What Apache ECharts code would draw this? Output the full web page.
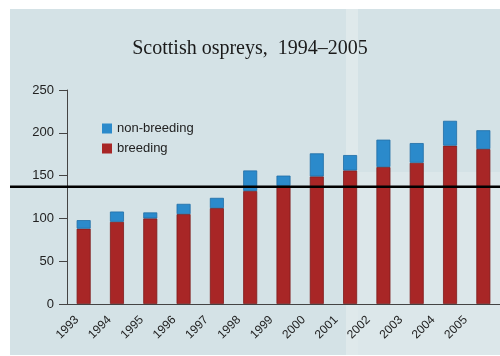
<!DOCTYPE html>
<html>
<head>
<meta charset="utf-8">
<script src="https://cdn.jsdelivr.net/npm/echarts@6/dist/echarts.min.js"></script>
<style>
  html, body { margin: 0; padding: 0; background: #ffffff; }
  #chart { width: 500px; height: 356px; }
</style>
</head>
<body>
<div id="chart"></div>
<script>
// Osprey counts per season
const years = ['1993', '1994', '1995', '1996', '1997', '1998', '1999',
               '2000', '2001', '2002', '2003', '2004', '2005'];
const breeding    = [88, 96, 100, 105, 112, 132, 138, 149, 156, 160, 165, 185, 181];
const nonBreeding = [10, 12, 7, 12, 12, 24, 12, 27, 18, 32, 23, 29, 22];
const yTickValues = [0, 50, 100, 150, 200, 250];
const referenceLevel = 137;

const chart = echarts.init(document.getElementById('chart'), null, { renderer: 'canvas' });

const grid = { left: 67, right: 0, top: 90, bottom: 52 };
const labelShift = 10;

chart.setOption({
  animation: false,
  title: {
    text: 'Scottish ospreys,  1994\u20132005',
    left: 'center',
    top: 34,
    textStyle: { fontFamily: 'Liberation Serif', fontSize: 20, fontWeight: 'normal', color: '#1a1a1a' }
  },
  legend: {
    orient: 'vertical',
    left: 97,
    top: 117,
    itemWidth: 10,
    itemHeight: 10,
    itemGap: 7,
    icon: 'rect',
    itemStyle: { borderWidth: 0 },
    data: ['non-breeding', 'breeding'],
    textStyle: { fontFamily: 'Liberation Sans', fontSize: 13, color: '#222' }
  },
  grid: [
    grid,
    { left: grid.left + labelShift, right: grid.right - labelShift, top: grid.top, bottom: grid.bottom }
  ],
  xAxis: [
    {
      type: 'category',
      gridIndex: 0,
      data: years,
      axisLine: { lineStyle: { color: '#444', width: 1 } },
      axisTick: { length: 4, lineStyle: { color: '#444' } },
      axisLabel: { show: false }
    },
    {
      // year labels sit on the band boundaries
      type: 'category',
      gridIndex: 1,
      boundaryGap: false,
      data: years.concat(['']),
      axisLine: { show: false },
      axisTick: { show: false },
      axisLabel: {
        rotate: 45,
        margin: 14,
        interval: 0,
        fontFamily: 'Liberation Sans',
        fontSize: 12,
        color: '#222'
      }
    }
  ],
  yAxis: [
    {
      type: 'value',
      gridIndex: 0,
      min: yTickValues[0],
      max: yTickValues[yTickValues.length - 1],
      interval: yTickValues[1] - yTickValues[0],
      axisLine: { show: true, lineStyle: { color: '#444', width: 1 } },
      axisTick: { show: true, length: 8, lineStyle: { color: '#444' } },
      axisLabel: { margin: 13, fontFamily: 'Liberation Sans', fontSize: 13, color: '#222' },
      splitLine: { show: false }
    },
    { type: 'value', gridIndex: 1, show: false }
  ],
  series: [
    {
      name: 'breeding',
      type: 'bar',
      stack: 'total',
      barWidth: 14,
      data: breeding,
      itemStyle: { color: '#a82626', borderColor: '#7d1b1b', borderWidth: 0.8 }
    },
    {
      name: 'non-breeding',
      type: 'bar',
      stack: 'total',
      barWidth: 14,
      data: nonBreeding,
      itemStyle: { color: '#2b8acb', borderColor: '#1f6da6', borderWidth: 0.8 }
    }
  ]
});

// Paper backdrop and the horizontal reference rule
const lineY = chart.convertToPixel({ yAxisIndex: 0 }, referenceLevel);
chart.setOption({
  graphic: [
    { type: 'rect', z: -10, shape: { x: 10, y: 9, width: 490, height: 346 }, style: { fill: '#d4e2e6' } },
    { type: 'rect', z: -9, shape: { x: 358, y: 172, width: 142, height: 183 }, style: { fill: '#dce7ea' } },
    { type: 'rect', z: -9, shape: { x: 346, y: 9, width: 12, height: 346 }, style: { fill: '#dfe9eb' } },
    { type: 'line', z: 100, shape: { x1: 10, y1: lineY, x2: 500, y2: lineY }, style: { stroke: '#000', lineWidth: 2.5 } }
  ]
});
</script>
</body>
</html>
